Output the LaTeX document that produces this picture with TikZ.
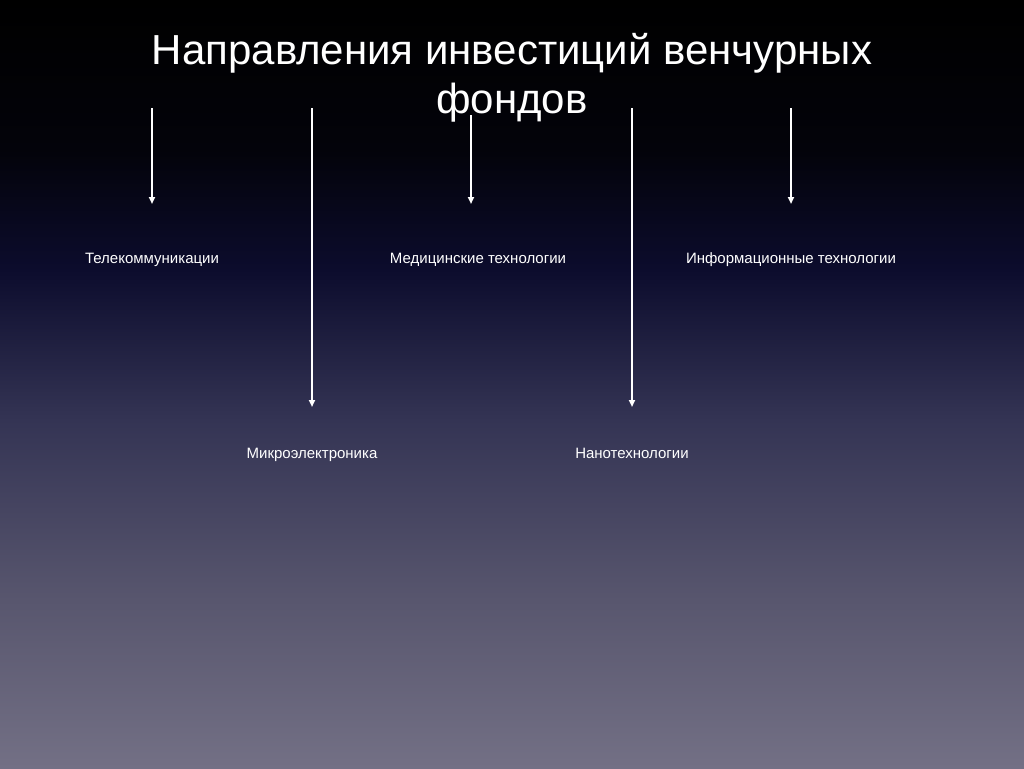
\documentclass[tikz,border=0pt]{standalone}
\usepackage{fontspec}
\setmainfont{Liberation Sans}
\usetikzlibrary{arrows.meta}
\definecolor{bgA}{RGB}{115,112,133}
\definecolor{bgB}{RGB}{88,86,110}
\definecolor{bgC}{RGB}{52,52,84}
\definecolor{bgD}{RGB}{12,12,45}
\definecolor{bgE}{RGB}{3,3,10}
\pgfdeclareverticalshading{slidebg}{100bp}{%
  color(0bp)=(bgA); color(25bp)=(bgA); color(35.94bp)=(bgB);
  color(47.66bp)=(bgC); color(57.42bp)=(bgD); color(65.23bp)=(bgE);
  color(75bp)=(black); color(100bp)=(black)}
\tikzset{
  arr/.style={white, line width=1.8pt, -{Triangle[width=6pt,length=7pt]}},
  lbl/.style={text=white, font=\fontsize{15}{17}\selectfont, inner sep=0pt, anchor=base},
  ttl/.style={text=white, font=\fontsize{42}{49}\selectfont, align=center, inner sep=0pt}
}
\begin{document}
\begin{tikzpicture}[x=1pt,y=-1pt]
\shade[shading=slidebg] (0,0) rectangle (1024,768);
\useasboundingbox (0,0) rectangle (1024,768);
\node[ttl] (title) at (512,78) {Направления инвестиций венчурных\\фондов};
\coordinate (s1) at (152,108);
\coordinate (s2) at (312,108);
\coordinate (s3) at (471,115);
\coordinate (s4) at (632,108);
\coordinate (s5) at (791,108);
\coordinate (e1) at (152,204);
\coordinate (e2) at (312,407);
\coordinate (e3) at (471,204);
\coordinate (e4) at (632,407);
\coordinate (e5) at (791,204);
\node[lbl] (tele) at (152,263) {Телекоммуникации};
\node[lbl] (med) at (478,263) {Медицинские технологии};
\node[lbl] (info) at (791,263) {Информационные технологии};
\node[lbl] (micro) at (312,458) {Микроэлектроника};
\node[lbl] (nano) at (632,458) {Нанотехнологии};
\draw[arr] (s1) -- (e1);
\draw[arr] (s2) -- (e2);
\draw[arr] (s3) -- (e3);
\draw[arr] (s4) -- (e4);
\draw[arr] (s5) -- (e5);
\end{tikzpicture}
\end{document}
